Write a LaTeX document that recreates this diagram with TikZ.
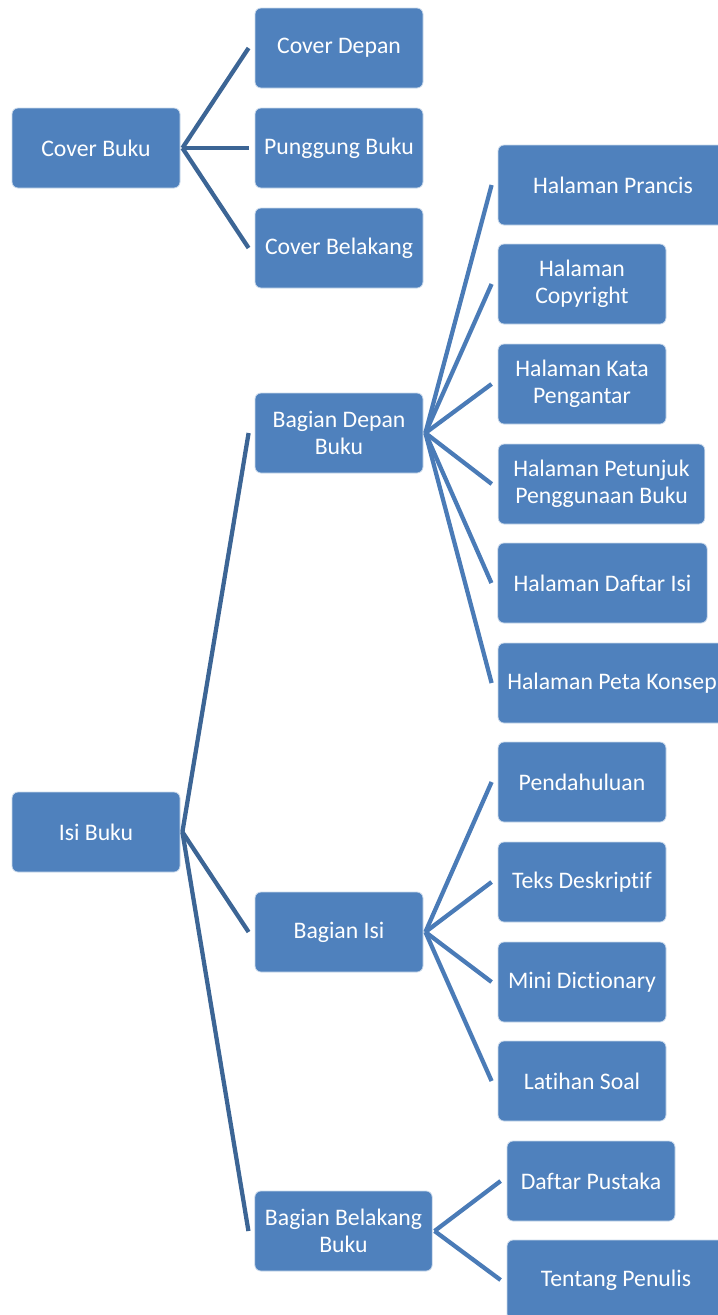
\documentclass[tikz,border=0pt]{standalone}
\usepackage{fontspec}
\setmainfont{Carlito}[Ligatures=NoCommon, Contextuals=NoAlternate]
\usetikzlibrary{calc, positioning}
\definecolor{boxblue}{HTML}{4F81BD}
\definecolor{linedark}{HTML}{3C6595}
\definecolor{linelight}{HTML}{4A7BB7}

\begin{document}
\begin{tikzpicture}[x=0.75pt,y=-0.75pt,
    box/.style={draw=white!70!boxblue, line width=0.6pt, fill=boxblue, rounded corners=4.5pt,
      text=white, align=center, minimum width=126pt, minimum height=60pt, inner sep=2pt,
      font=\fontsize{17.8}{20.3}\selectfont},
    ln/.style={line width=3.2pt, draw=linedark},
    lnb/.style={line width=3.2pt, draw=linelight}]
      \useasboundingbox (0,0) rectangle (718,1315);

      \node[box] (c0) at (96,148) {Cover Buku};
      \node[box] (c1) at (339,48) {Cover Depan};
      \node[box] (c2) at (339,148) {Punggung Buku};
      \node[box] (c3) at (339,248) {Cover Belakang};

      \node[box] (i0) at (96,832) {Isi Buku};
      \node[box] (d0) at (339,433) {Bagian Depan\\Buku};
      \node[box] (t0) at (339,932) {Bagian Isi};
      \node[box, minimum width=133pt] (b0) at (343.5,1231) {Bagian Belakang\\Buku};

      \node[box, minimum width=172.5pt] (d1) at (613,185) {Halaman Prancis};
      \node[box] (d2) at (582,284) {Halaman\\Copyright};
      \node[box] (d3) at (582,384) {Halaman Kata\\Pengantar};
      \node[box, minimum width=155pt] (d4) at (601.5,484) {Halaman Petunjuk\\Penggunaan Buku};
      \node[box, minimum width=157pt] (d5) at (602.5,583) {Halaman Daftar Isi};
      \node[box, minimum width=171pt] (d6) at (612,683) {Halaman Peta Konsep};

      \node[box] (t1) at (582,782) {Pendahuluan};
      \node[box] (t2) at (582,882) {Teks Deskriptif};
      \node[box] (t3) at (582,982) {Mini Dictionary};
      \node[box] (t4) at (582,1081) {Latihan Soal};

      \node[box] (b1) at (591,1181) {Daftar Pustaka};
      \node[box, minimum width=163.5pt] (b2) at (616,1280) {Tentang Penulis};

      % cover
      \draw[ln] ([xshift=1.5pt]c0.east) -- ([xshift=-4.5pt]c1.west);
      \draw[ln] ([xshift=1.5pt]c0.east) -- ([xshift=-4.5pt]c2.west);
      \draw[ln] ([xshift=1.5pt]c0.east) -- ([xshift=-4.5pt]c3.west);

      % isi
      \draw[ln] ([xshift=1.5pt]i0.east) -- ([xshift=-4.5pt]d0.west);
      \draw[ln] ([xshift=1.5pt]i0.east) -- ([xshift=-4.5pt]t0.west);
      \draw[ln] ([xshift=1.5pt]i0.east) -- ([xshift=-4.5pt]b0.west);

      \draw[lnb] ([xshift=1.5pt]d0.east) -- ([xshift=-4.5pt]d1.west);
      \draw[lnb] ([xshift=1.5pt]d0.east) -- ([xshift=-4.5pt]d2.west);
      \draw[lnb] ([xshift=1.5pt]d0.east) -- ([xshift=-4.5pt]d3.west);
      \draw[lnb] ([xshift=1.5pt]d0.east) -- ([xshift=-4.5pt]d4.west);
      \draw[lnb] ([xshift=1.5pt]d0.east) -- ([xshift=-4.5pt]d5.west);
      \draw[lnb] ([xshift=1.5pt]d0.east) -- ([xshift=-4.5pt]d6.west);

      \draw[lnb] ([xshift=1.5pt]t0.east) -- ([xshift=-4.5pt]t1.west);
      \draw[lnb] ([xshift=1.5pt]t0.east) -- ([xshift=-4.5pt]t2.west);
      \draw[lnb] ([xshift=1.5pt]t0.east) -- ([xshift=-4.5pt]t3.west);
      \draw[lnb] ([xshift=1.5pt]t0.east) -- ([xshift=-4.5pt]t4.west);

      \draw[lnb] ([xshift=1.5pt]b0.east) -- ([xshift=-4.5pt]b1.west);
      \draw[lnb] ([xshift=1.5pt]b0.east) -- ([xshift=-4.5pt]b2.west);
\end{tikzpicture}
\end{document}
